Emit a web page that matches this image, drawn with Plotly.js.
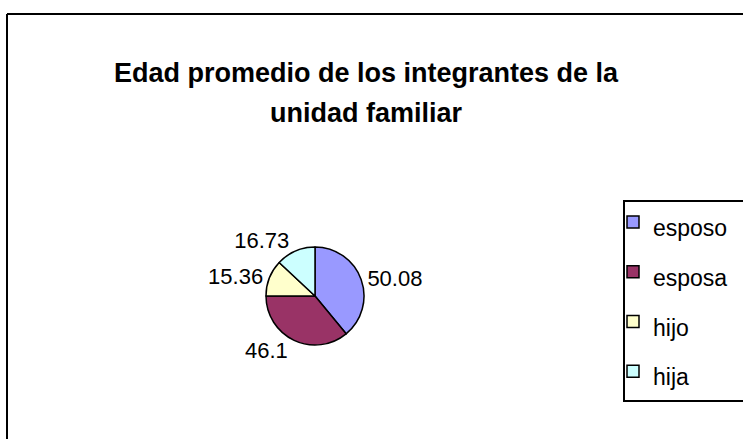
<!DOCTYPE html>
<html>
<head>
<meta charset="utf-8">
<script src="https://cdn.plot.ly/plotly-3.0.1.min.js"></script>
<style>
  html, body { margin: 0; padding: 0; background: #fff; }
  #chart { width: 743px; height: 439px; }
</style>
</head>
<body>
<div id="chart"></div>
<script>
const titleLines = ["Edad promedio de los integrantes de la", "unidad familiar"];
const categories = ["esposo", "esposa", "hijo", "hija"];
const values = [50.08, 46.1, 15.36, 16.73];
const colors = ["#9999FF", "#993366", "#FFFFCC", "#CCFFFF"];

const FONT = "Liberation Sans, Arial, sans-serif";
const W = 743, H = 439;
const px = v => v / W;
const py = v => 1 - v / H;

const trace = {
  type: "pie",
  labels: categories.map(c => '<span style="font-size:23px">' + c + '</span>'),
  values: values,
  sort: false,
  direction: "clockwise",
  rotation: 0,
  marker: { colors: colors, line: { color: "#000", width: 1.5 } },
  textinfo: "value",
  texttemplate: "%{value}",
  textposition: "outside",
  outsidetextfont: { family: FONT, size: 22, color: "#000" },
  domain: { x: [px(266), px(364)], y: [py(345), py(247)] },
  hoverinfo: "label+value"
};

const layout = {
  width: W, height: H,
  margin: { l: 0, r: 0, t: 0, b: 0 },
  paper_bgcolor: "#fff",
  plot_bgcolor: "#fff",
  title: {
    text: titleLines[0],
    font: { family: FONT, size: 27, color: "#000", weight: "bold" },
    x: px(366), xanchor: "center", xref: "paper",
    y: py(73), yanchor: "middle", yref: "paper"
  },
  annotations: [{
    text: titleLines[1],
    font: { family: FONT, size: 27, color: "#000", weight: "bold" },
    x: px(366), xanchor: "center", xref: "paper",
    y: py(113), yanchor: "middle", yref: "paper",
    showarrow: false
  }],
  showlegend: true,
  legend: {
    x: px(613), xanchor: "left",
    y: py(192), yanchor: "top",
    bgcolor: "rgba(0,0,0,0)",
    borderwidth: 0,
    font: { family: FONT, size: 36, color: "#000" }
  },
  shapes: [
    { type: "line", xref: "paper", yref: "paper", x0: px(7), x1: px(7), y0: -0.01, y1: py(14), line: { color: "#000", width: 2 } },
    { type: "line", xref: "paper", yref: "paper", x0: px(7), x1: 1.01, y0: py(14), y1: py(14), line: { color: "#000", width: 2 } },
    { type: "rect", xref: "paper", yref: "paper", x0: px(624), x1: 1.02, y0: py(401), y1: py(201), line: { color: "#000", width: 2 }, fillcolor: "rgba(0,0,0,0)" }
  ]
};

Plotly.newPlot("chart", [trace], layout, { displayModeBar: false, staticPlot: true });
</script>
</body>
</html>
